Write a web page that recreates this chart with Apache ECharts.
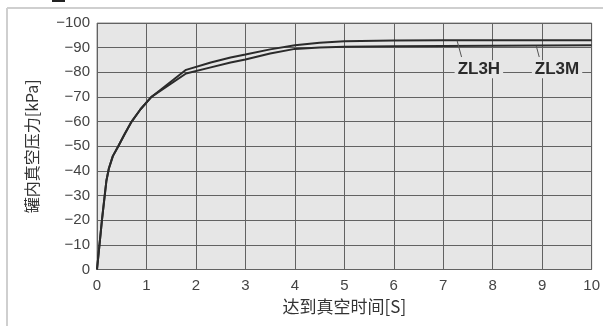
<!DOCTYPE html>
<html>
<head>
<meta charset="utf-8">
<script src="https://cdn.jsdelivr.net/npm/echarts@6/dist/echarts.min.js"></script>
<style>
  html, body { margin: 0; padding: 0; background: #fff; }
  #chart { width: 603px; height: 326px; }
</style>
</head>
<body>
<div id="chart"></div>
<script>
// Time to reach vacuum [s] against tank vacuum pressure [kPa]
const timeH  = [0, 0.05, 0.1, 0.15, 0.19, 0.24, 0.32, 0.43, 0.56, 0.7, 0.88, 1.1, 1.8, 2.3, 2.7, 3.0, 3.5, 4.0, 4.5, 5.0, 6.0, 7.0, 8.0, 10];
const pressH = [0, -10, -20, -29, -36, -41, -46, -50, -55, -60, -65, -70, -81, -84, -86, -87.2, -89.3, -91, -92, -92.6, -92.9, -93, -93, -93];

const timeM  = [0, 0.05, 0.1, 0.15, 0.19, 0.24, 0.32, 0.43, 0.56, 0.7, 0.88, 1.1, 1.8, 2.3, 2.7, 3.0, 3.5, 4.0, 4.5, 5.0, 6.0, 7.0, 8.0, 10];
const pressM = [0, -10, -20, -29, -36, -41, -46, -50, -55, -60, -65, -70, -79.5, -82, -84, -85.2, -87.6, -89.5, -90.1, -90.4, -90.6, -90.7, -90.8, -91];

const xTicks = [0, 1, 2, 3, 4, 5, 6, 7, 8, 9, 10];
const yTicks = [0, -10, -20, -30, -40, -50, -60, -70, -80, -90, -100];

// Model tags with their leader lines
const tagNames  = ['ZL3H', 'ZL3M'];
const tagPos    = [[7.72, -81.2], [9.3, -81.2]];
const leaderTop = [[7.28, -92.8], [8.88, -90.7]];
const leaderBot = [[7.37, -86.2], [8.94, -86.2]];

const pairs = (xs, ys) => xs.map((x, i) => [x, ys[i]]);

const chart = echarts.init(document.getElementById('chart'));

function seriesFor(name, xs, ys, k) {
  return {
    name: name,
    type: 'line',
    data: pairs(xs, ys),
    showSymbol: false,
    smooth: false,
    z: 3,
    lineStyle: { color: '#2b2b2b', width: 2 },
    markLine: {
      silent: true,
      symbol: 'none',
      label: { show: false },
      lineStyle: { color: '#555', width: 1, type: 'solid' },
      data: [[{ coord: leaderTop[k] }, { coord: leaderBot[k] }]]
    },
    markPoint: {
      silent: true,
      symbol: 'rect',
      symbolSize: 0,
      data: [{ coord: tagPos[k] }],
      label: {
        show: true,
        formatter: tagNames[k],
        position: 'inside',
        color: '#2a2a2a',
        fontFamily: 'Liberation Sans, Arial, sans-serif',
        fontWeight: 'bold',
        fontSize: 17,
        backgroundColor: '#e6e6e6',
        padding: [1, 3, 0, 3]
      }
    }
  };
}

chart.setOption({
  animation: false,
  backgroundColor: '#ffffff',
  textStyle: { fontFamily: 'Liberation Sans, Arial, sans-serif' },
  grid: {
    left: 97, top: 23, right: 10.5, bottom: 56.5,
    show: true,
    backgroundColor: '#e6e6e6',
    borderColor: '#8a8a8a',
    borderWidth: 1
  },
  xAxis: {
    type: 'value',
    min: xTicks[0],
    max: xTicks[xTicks.length - 1],
    interval: 1,
    name: '达到真空时间[S]',
    nameLocation: 'middle',
    nameGap: 29,
    nameTextStyle: { fontFamily: 'Noto Sans CJK SC', fontSize: 17, color: '#333' },
    axisLine: { show: false },
    axisTick: { show: false },
    axisLabel: { color: '#444', fontSize: 15, margin: 9 },
    splitLine: { show: true, lineStyle: { color: '#626262', width: 1 } }
  },
  yAxis: {
    type: 'value',
    inverse: true,
    min: yTicks[yTicks.length - 1],
    max: yTicks[0],
    interval: 10,
    name: '罐内真空压力[kPa]',
    nameLocation: 'middle',
    nameGap: 57,
    nameTextStyle: { fontFamily: 'Noto Sans CJK SC', fontSize: 16, color: '#333' },
    axisLine: { show: false },
    axisTick: { show: false },
    axisLabel: {
      color: '#444', fontSize: 15, margin: 7,
      formatter: v => (v === 0 ? '0' : '\u2212' + Math.abs(v))
    },
    splitLine: { show: true, lineStyle: { color: '#626262', width: 1 } }
  },
  graphic: [
    // outer frame edges
    { type: 'line', silent: true, shape: { x1: 7, y1: 8, x2: 603, y2: 8 }, style: { stroke: '#cfcfcf', lineWidth: 2 } },
    { type: 'line', silent: true, shape: { x1: 7, y1: 8, x2: 7, y2: 326 }, style: { stroke: '#cfcfcf', lineWidth: 2 } },
    // bottom of a heading mark above the frame
    { type: 'rect', silent: true, shape: { x: 52, y: 0, width: 13, height: 2 }, style: { fill: '#222' } }
  ],
  series: [
    seriesFor('ZL3H', timeH, pressH, 0),
    seriesFor('ZL3M', timeM, pressM, 1)
  ]
});
</script>
</body>
</html>
